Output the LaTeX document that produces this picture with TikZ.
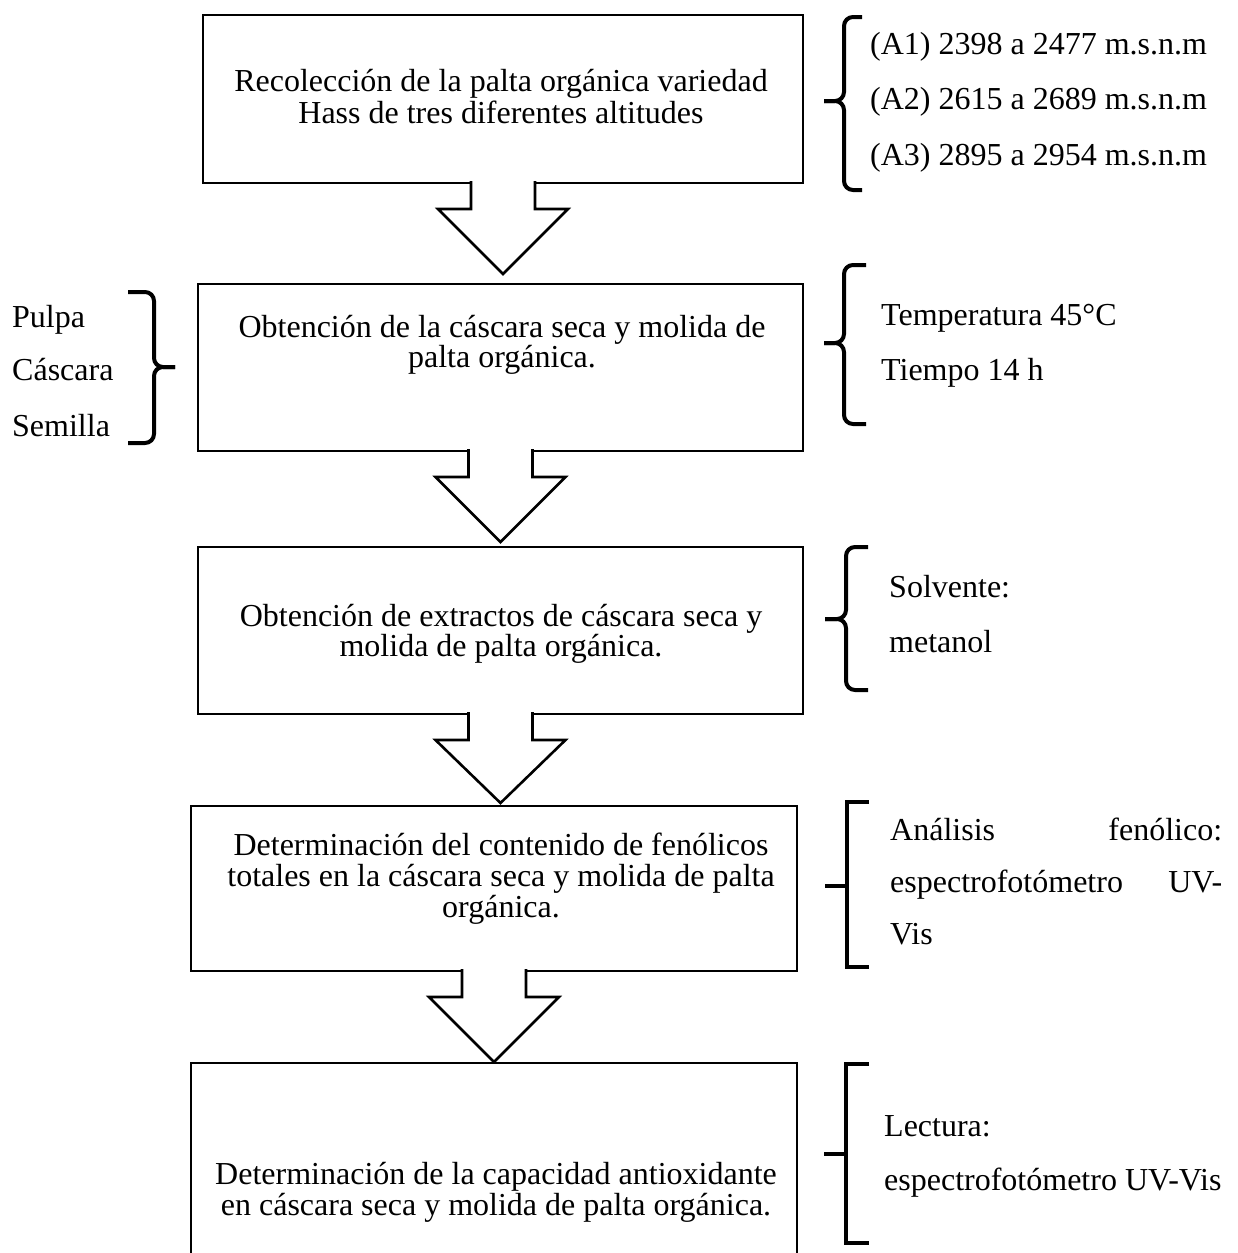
\documentclass[tikz,border=0pt]{standalone}
\usepackage{fontspec}
\setmainfont{Liberation Serif}
\usetikzlibrary{calc}
\newcommand\curlybrace[6]{% x, hook x, top y, bottom y, tip x, mid y
  \draw[bracestyle] (#2,#3) -- (#1,#3) -- (#1,#6) -- (#5,#6);
  \draw[bracestyle] (#5,#6) -- (#1,#6) -- (#1,#4) -- (#2,#4);}
\newcommand\squarebracket[6]{% x, hook x, top y, bottom y, tip x, mid y
  \draw[bracketstyle] (#2,#3) -- (#1,#3) -- (#1,#4) -- (#2,#4);
  \draw[bracketstyle] (#5,#6) -- (#1,#6);}
\newcommand\blockarrow[3]{% from node, to node, gap above target
  \filldraw[arrowstyle] ($(#1.south)+(-32,-2)$) -- ++(0,28) -- ++(-33,0)
    -- ($(#1.south |- #2.north)+(0,-#3)$) -- ($(#1.south)+(65,26)$)
    -- ++(-33,0) -- ++(0,-28);}
\begin{document}
\begin{tikzpicture}[x=1pt,y=-1pt,
  box/.style={draw, line width=2.6pt, inner sep=0pt, outer sep=0pt},
  txt/.style={font=\fontsize{32}{38}\selectfont, inner sep=0pt, anchor=base},
  rtxt/.style={font=\fontsize{32}{38}\selectfont, inner sep=0pt, anchor=base west},
  bracestyle/.style={line width=4pt, rounded corners=9pt},
  bracketstyle/.style={line width=4pt},
  arrowstyle/.style={fill=white, draw, line width=2.6pt, line join=miter}]
\path[use as bounding box] (0,0) rectangle (1238,1253);
\clip (0,0) rectangle (1238,1253);

% boxes
\node[box, minimum width=600pt, minimum height=168pt] (b1) at (503,99) {};
\node[box, minimum width=605pt, minimum height=167pt] (b2) at (500.5,367.5) {};
\node[box, minimum width=605pt, minimum height=167pt] (b3) at (500.5,630.5) {};
\node[box, minimum width=606pt, minimum height=165pt] (b4) at (494,888.5) {};
\node[box, minimum width=606pt, minimum height=240pt] (b5) at (494,1183) {};

% block arrows
\blockarrow{b1}{b2}{10}
\blockarrow{b2}{b3}{5}
\blockarrow{b3}{b4}{3}
\blockarrow{b4}{b5}{1}

% box texts
\node[txt] (t1a) at (501,91) {Recolección de la palta orgánica variedad};
\node[txt] (t1b) at (501,123) {Hass de tres diferentes altitudes};
\node[txt] (t2a) at (502,337) {Obtención de la cáscara seca y molida de};
\node[txt] (t2b) at (502,367) {palta orgánica.};
\node[txt] (t3a) at (501,626) {Obtención de extractos de cáscara seca y};
\node[txt] (t3b) at (501,656) {molida de palta orgánica.};
\node[txt] (t4a) at (501,855) {Determinación del contenido de fenólicos};
\node[txt] (t4b) at (501,886) {totales en la cáscara seca y molida de palta};
\node[txt] (t4c) at (501,917) {orgánica.};
\node[txt] (t5a) at (496,1184) {Determinación de la capacidad antioxidante};
\node[txt] (t5b) at (496,1215) {en cáscara seca y molida de palta orgánica.};

% side texts
\node[rtxt] (a1) at (870,54) {(A1) 2398 a 2477 m.s.n.m};
\node[rtxt] (a2) at (870,109) {(A2) 2615 a 2689 m.s.n.m};
\node[rtxt] (a3) at (870,165) {(A3) 2895 a 2954 m.s.n.m};
\node[rtxt] (p1) at (12,327) {Pulpa};
\node[rtxt] (p2) at (12,380) {Cáscara};
\node[rtxt] (p3) at (12,436) {Semilla};
\node[rtxt] (c1) at (881,325) {Temperatura 45°C};
\node[rtxt] (c2) at (881,380) {Tiempo 14 h};
\node[rtxt] (s1) at (889,597) {Solvente:};
\node[rtxt] (s2) at (889,652) {metanol};
\node[rtxt] (f1) at (890,840) {\makebox[332pt][s]{Análisis fenólico:}};
\node[rtxt] (f2) at (890,892) {\makebox[332pt][s]{espectrofotómetro UV-}};
\node[rtxt] (f3) at (890,944) {Vis};
\node[rtxt] (l1) at (884,1136) {Lectura:};
\node[rtxt] (l2) at (884,1190) {espectrofotómetro UV-Vis};

% braces and brackets
\curlybrace{844}{862}{17}{190}{824}{101}
\curlybrace{154}{128}{292}{443}{175}{367}
\curlybrace{844}{866}{265}{424}{824}{343}
\curlybrace{846}{868}{547}{690}{825}{619}
\squarebracket{847}{869}{802}{967}{825}{886}
\squarebracket{846}{869}{1064}{1243}{824}{1154}
\end{tikzpicture}
\end{document}
